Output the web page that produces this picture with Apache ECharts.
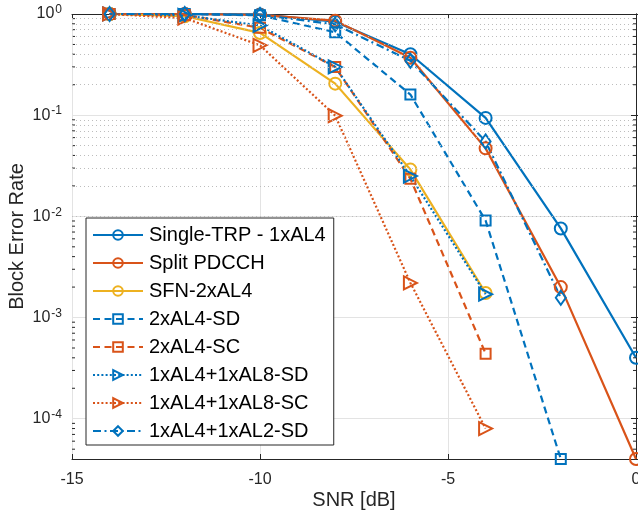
<!DOCTYPE html>
<html>
<head>
<meta charset="utf-8">
<script src="https://cdn.jsdelivr.net/npm/echarts@6/dist/echarts.min.js"></script>
<style>html,body{margin:0;padding:0;background:#fff}#c{width:638px;height:521px}</style>
</head>
<body>
<div id="c"></div>
<script>
// ---- data ----
const snr = [-14, -12, -10, -8, -6, -4, -2, 0];
const singleTRP  = [1, 1, 0.99, 0.84, 0.40, 0.094, 0.0076, 0.0004];
const splitPDCCH = [1, 1, 0.98, 0.86, 0.37, 0.047, 0.0020, 0.00004];
const sfn2xAL4   = [1, 0.95, 0.65, 0.205, 0.029, 0.00175];
const al4SD      = [1, 1, 0.97, 0.66, 0.16, 0.0091, 0.00004];
const al4SC      = [1, 0.98, 0.73, 0.30, 0.0235, 0.00044];
const al8SD      = [1, 0.97, 0.77, 0.30, 0.025, 0.0017];
const al8SC      = [1, 0.91, 0.49, 0.099, 0.0022, 0.00008];
const al2SD      = [1, 1, 0.98, 0.79, 0.345, 0.055, 0.00157];
const names = ['Single-TRP - 1xAL4', 'Split PDCCH', 'SFN-2xAL4', '2xAL4-SD', '2xAL4-SC',
               '1xAL4+1xAL8-SD', '1xAL4+1xAL8-SC', '1xAL4+1xAL2-SD'];
const xTicks = [-15, -10, -5, 0];
const yDecades = [-5, -4, -3, -2, -1];
const minorMult = [2, 3, 4, 5, 6, 7, 8, 9];
const yMin = 4e-5, yMax = 1;

const BLUE = '#0072BD', ORANGE = '#D95319', YELLOW = '#EDB120';
const FONT = 'Liberation Sans, Arial, Helvetica, sans-serif';
const TRI_R = 'path://M0,0L10,5L0,10Z';
const xMin = xTicks[0], xMax = xTicks[xTicks.length - 1];

function pairs(vals) { return vals.map((v, i) => [snr[i], v]); }

function mk(name, vals, color, symbol, size, dash) {
  return {
    name, type: 'line', data: pairs(vals),
    symbol, symbolSize: size, symbolKeepAspect: true,
    showAllSymbol: true,
    lineStyle: { color, width: 2.2, type: dash },
    itemStyle: { color: 'rgba(255,255,255,0)', borderColor: color, borderWidth: 2 },
    emphasis: { disabled: true },
    clip: false, z: 3
  };
}

const minorVals = [];
yDecades.forEach(d => minorMult.forEach(m => {
  const v = m * Math.pow(10, d);
  if (v > yMin && v < yMax) minorVals.push(v);
}));

const DASH = [7, 4.5], DOT = [2, 2.2], DASHDOT = [8, 3.5, 2, 3.5];

const series = [
  {
    name: '_minor', type: 'line', data: [], silent: true, z: 1,
    markLine: {
      silent: true, symbol: 'none', label: { show: false },
      lineStyle: { type: [1, 3], color: '#bdbdbd', width: 1 },
      emphasis: { disabled: true },
      data: minorVals.map(v => ({ yAxis: v }))
    }
  },
  {
    name: '_minorTicks', type: 'custom', silent: true, z: 4,
    data: minorVals.map(v => [xMin, v]),
    renderItem: (params, api) => {
      const v = api.value(1);
      const l = api.coord([xMin, v]);
      const r = api.coord([xMax, v]);
      const st = { stroke: '#262626', lineWidth: 1 };
      return { type: 'group', children: [
        { type: 'line', shape: { x1: l[0], y1: l[1], x2: l[0] + 3, y2: l[1] }, style: st },
        { type: 'line', shape: { x1: r[0], y1: r[1], x2: r[0] - 3, y2: r[1] }, style: st }
      ] };
    }
  },
  mk(names[0], singleTRP, BLUE, 'circle', 12, 'solid'),
  mk(names[1], splitPDCCH, ORANGE, 'circle', 12, 'solid'),
  mk(names[2], sfn2xAL4, YELLOW, 'circle', 12, 'solid'),
  mk(names[3], al4SD, BLUE, 'rect', 10, DASH),
  mk(names[4], al4SC, ORANGE, 'rect', 10, DASH),
  mk(names[5], al8SD, BLUE, TRI_R, 13, DOT),
  mk(names[6], al8SC, ORANGE, TRI_R, 13, DOT),
  mk(names[7], al2SD, BLUE, 'diamond', [10, 14], DASHDOT)
];

const yLabelFmt = v => {
  const e = Math.log10(v);
  if (Math.abs(e - Math.round(e)) > 1e-6) return '';
  return '{b|10}{s|' + Math.round(e) + '}';
};

const axisLine = { show: true, lineStyle: { color: '#262626', width: 1 } };
const option = {
  animation: false,
  backgroundColor: '#fff',
  grid: { left: 72, right: 2, top: 14, bottom: 62, containLabel: false, outerBoundsMode: 'none' },
  xAxis: [{
    type: 'value', min: xMin, max: xMax, interval: 5,
    name: 'SNR [dB]', nameLocation: 'middle', nameGap: 31, nameMoveOverlap: false,
    nameTextStyle: { fontFamily: FONT, fontSize: 20, color: '#262626' },
    axisLine, axisTick: { show: true, inside: true, length: 5, lineStyle: { color: '#262626' } },
    axisLabel: { fontFamily: FONT, fontSize: 16, color: '#262626', margin: 13 },
    splitLine: { show: true, lineStyle: { color: '#e3e3e3', width: 1 } }
  }, {
    type: 'value', position: 'top', min: xMin, max: xMax, interval: 5,
    axisLine, axisTick: { show: true, inside: true, length: 5, lineStyle: { color: '#262626' } },
    axisLabel: { show: false }, splitLine: { show: false }
  }],
  yAxis: [{
    type: 'log', logBase: 10, min: yMin, max: yMax,
    name: 'Block Error Rate', nameLocation: 'middle', nameGap: 45, nameMoveOverlap: false,
    nameTextStyle: { fontFamily: FONT, fontSize: 20, color: '#262626' },
    axisLine, axisTick: { show: true, inside: true, length: 5, lineStyle: { color: '#262626' } },
    axisLabel: {
      formatter: yLabelFmt, margin: 10, color: '#262626',
      rich: {
        b: { fontFamily: FONT, fontSize: 16, color: '#262626' },
        s: { fontFamily: FONT, fontSize: 12, color: '#262626', verticalAlign: 'top', padding: [0, 0, 8, 1] }
      }
    },
    splitLine: { show: true, lineStyle: { color: '#e3e3e3', width: 1 } }
  }, {
    type: 'log', logBase: 10, min: yMin, max: yMax, position: 'right',
    axisLine, axisTick: { show: true, inside: true, length: 5, lineStyle: { color: '#262626' } },
    axisLabel: { show: false }, splitLine: { show: false }
  }],
  legend: {
    data: names, orient: 'vertical', left: 86, top: 218,
    padding: [7, 8, 4, 6], itemGap: 8, itemWidth: 50, itemHeight: 12,
    backgroundColor: '#fff', borderColor: '#262626', borderWidth: 1,
    textStyle: { fontFamily: FONT, fontSize: 20, color: '#000', padding: [0, 0, 0, 1] },
    selectedMode: false
  },
  series
};
echarts.init(document.getElementById('c'), null, { renderer: 'canvas' }).setOption(option);
</script>
</body>
</html>
